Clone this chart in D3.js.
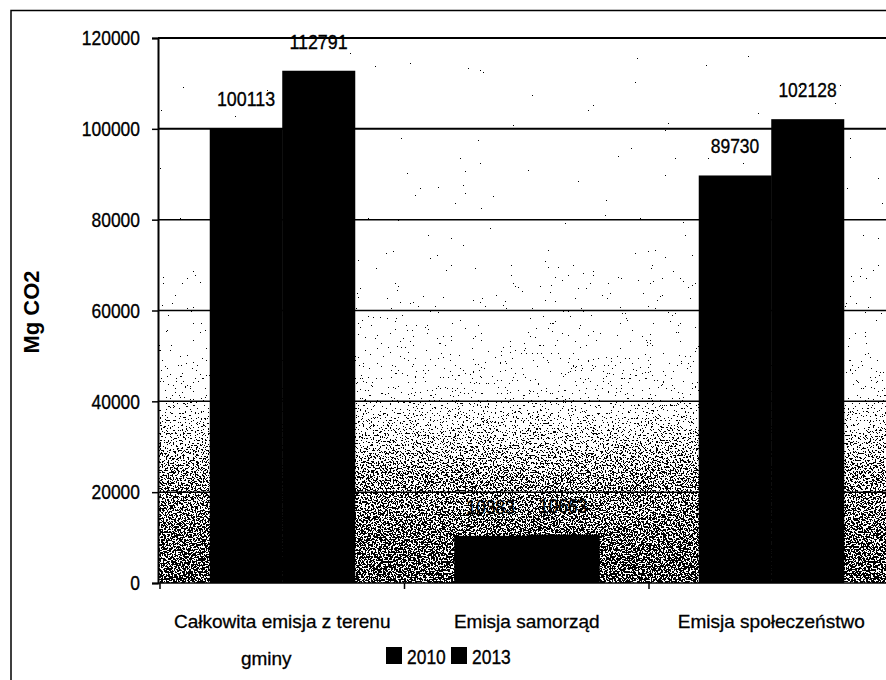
<!DOCTYPE html>
<html>
<head>
<meta charset="utf-8">
<script src="https://cdn.jsdelivr.net/npm/d3@7"></script>
<style>
  body { margin: 0; background: #fff; }
  svg { display: block; }
</style>
</head>
<body>
<svg id="chart" width="886" height="680"></svg>
<script>
const categories = ["Całkowita emisja z terenu gminy", "Emisja samorząd", "Emisja społeczeństwo"];
const seriesNames = ["2010", "2013"];
const values2010 = [100113, 10383, 89730];
const values2013 = [112791, 10663, 102128];
const yTicks = [0, 20000, 40000, 60000, 80000, 100000, 120000];

const width = 886, height = 680;
const plotLeft = 158, plotTop = 38, plotBottom = 583;
const font = "'Liberation Sans', Arial, sans-serif";
const digitW = 9.7; // scanned digits are narrow and tall

const svg = d3.select("#chart");

const y = d3.scaleLinear().domain([0, 120000]).range([plotBottom, plotTop]);
const x0 = d3.scaleBand().domain(categories).range([plotLeft + 2, plotLeft + 2 + 3 * 244.5]).padding(0);
const x1 = d3.scaleBand().domain(seriesNames).range([0, x0.bandwidth()]).paddingInner(0).paddingOuter(0.686);

// narrow number text
function narrow(sel) {
  sel.attr("font-size", 21)
    .attr("textLength", function () { return this.textContent.length * digitW; })
    .attr("lengthAdjust", "spacingAndGlyphs")
    .attr("stroke", "#000").attr("stroke-width", 0.35);
}

// stipple texture (scanned Excel gradient)
const defs = svg.append("defs");
const grad = defs.append("linearGradient")
  .attr("id", "dens")
  .attr("gradientUnits", "userSpaceOnUse")
  .attr("x1", 0).attr("x2", 0)
  .attr("y1", plotTop).attr("y2", plotBottom);
const off = v => (y(v) - plotTop) / (plotBottom - plotTop);
[[120000, 0.86], [80000, 0.83], [60000, 0.775], [40500, 0.715], [39500, 0.685],
 [30000, 0.59], [24000, 0.525], [0, 0.45]].forEach(s => {
  const c = Math.round(s[1] * 255);
  grad.append("stop").attr("offset", off(s[0])).attr("stop-color", `rgb(${c},${c},${c})`);
});

const filt = defs.append("filter")
  .attr("id", "stip")
  .attr("x", 0).attr("y", 0).attr("width", 1).attr("height", 1)
  .attr("color-interpolation-filters", "sRGB");
filt.append("feTurbulence")
  .attr("type", "fractalNoise").attr("baseFrequency", 0.6).attr("numOctaves", 2).attr("seed", 7)
  .attr("result", "n");
filt.append("feColorMatrix")
  .attr("in", "n").attr("type", "matrix")
  .attr("values", "1 0 0 0 0  1 0 0 0 0  1 0 0 0 0  0 0 0 0 1")
  .attr("result", "g");
filt.append("feComposite")
  .attr("in", "g").attr("in2", "SourceGraphic")
  .attr("operator", "arithmetic")
  .attr("k1", 0).attr("k2", 1).attr("k3", 1).attr("k4", -0.5)
  .attr("result", "s");
const ct = filt.append("feComponentTransfer").attr("in", "s");
["feFuncR", "feFuncG", "feFuncB"].forEach(f => ct.append(f).attr("type", "discrete").attr("tableValues", "0 1"));
ct.append("feFuncA").attr("type", "linear").attr("slope", 0).attr("intercept", 1);

svg.append("rect")
  .attr("x", plotLeft).attr("y", plotTop)
  .attr("width", width - plotLeft).attr("height", plotBottom - plotTop)
  .attr("fill", "url(#dens)")
  .attr("filter", "url(#stip)");

// outer frame
svg.append("path")
  .attr("d", `M11,${height} V10.5 H${width}`)
  .attr("fill", "none").attr("stroke", "#000").attr("stroke-width", 1.5);

// gridlines
svg.append("g")
  .selectAll("line")
  .data(yTicks.filter(d => d > 0))
  .join("line")
  .attr("x1", plotLeft).attr("x2", width)
  .attr("y1", d => y(d)).attr("y2", d => y(d))
  .attr("stroke", "#000")
  .attr("stroke-width", d => d >= 100000 ? 2 : 1.5);

// bars
const series = [values2010, values2013];
svg.append("g")
  .selectAll("g")
  .data(categories)
  .join("g")
  .attr("transform", d => `translate(${x0(d)},0)`)
  .selectAll("rect")
  .data((d, i) => seriesNames.map((s, j) => ({ s, v: series[j][i] })))
  .join("rect")
  .attr("x", d => x1(d.s))
  .attr("y", d => y(d.v))
  .attr("width", x1.bandwidth() + 0.5)
  .attr("height", d => y(0) - y(d.v))
  .attr("fill", "#000");

// value labels
svg.append("g")
  .attr("font-family", font)
  .attr("text-anchor", "middle")
  .selectAll("g")
  .data(categories)
  .join("g")
  .attr("transform", d => `translate(${x0(d)},0)`)
  .selectAll("text")
  .data((d, i) => seriesNames.map((s, j) => ({ s, v: series[j][i] })))
  .join("text")
  .attr("x", d => x1(d.s) + x1.bandwidth() / 2)
  .attr("y", d => y(d.v) - 22)
  .text(d => d.v)
  .call(narrow);

// y axis
const yAxis = svg.append("g")
  .attr("transform", `translate(${plotLeft},0)`)
  .call(d3.axisLeft(y).tickValues(yTicks).tickSize(6).tickPadding(12).tickFormat(d3.format("d")));
yAxis.select(".domain").attr("stroke-width", 2);
yAxis.selectAll(".tick line").attr("stroke-width", 1.5);
yAxis.selectAll("text")
  .attr("font-family", font)
  .attr("fill", "#000")
  .call(narrow);

// x axis
svg.append("line")
  .attr("x1", plotLeft).attr("x2", width)
  .attr("y1", plotBottom).attr("y2", plotBottom)
  .attr("stroke", "#000").attr("stroke-width", 1.5);
svg.append("g")
  .selectAll("line")
  .data(categories)
  .join("line")
  .attr("x1", d => x0(d)).attr("x2", d => x0(d))
  .attr("y1", plotBottom).attr("y2", plotBottom + 6)
  .attr("stroke", "#000").attr("stroke-width", 1.5);

// category labels
const catLines = [["Całkowita emisja z terenu", "gminy"], ["Emisja samorząd"], ["Emisja społeczeństwo"]];
svg.append("g")
  .attr("font-family", font)
  .attr("font-size", 19)
  .attr("stroke", "#000").attr("stroke-width", 0.3)
  .attr("text-anchor", "middle")
  .selectAll("text")
  .data(categories)
  .join("text")
  .attr("y", 628)
  .each(function (d, i) {
    const cx = x0(d) + x0.bandwidth() / 2;
    d3.select(this).selectAll("tspan")
      .data(catLines[i])
      .join("tspan")
      .attr("x", (t, k) => k === 0 ? cx : cx - 16)
      .attr("dy", (t, k) => k === 0 ? 0 : 37)
      .text(t => t);
  });

// y title
svg.append("text")
  .attr("transform", "translate(39,312) rotate(-90)")
  .attr("text-anchor", "middle")
  .attr("font-family", font)
  .attr("font-weight", "bold")
  .attr("font-size", 22)
  .text("Mg CO2");

// legend
const legend = svg.append("g")
  .attr("font-family", font)
  .selectAll("g")
  .data(seriesNames)
  .join("g")
  .attr("transform", (d, i) => `translate(${386 + i * 65},647)`);
legend.append("rect")
  .attr("width", 16).attr("height", 17)
  .attr("fill", "#000");
legend.append("text")
  .attr("x", 21).attr("y", 17)
  .text(d => d)
  .call(narrow);
</script>
</body>
</html>
